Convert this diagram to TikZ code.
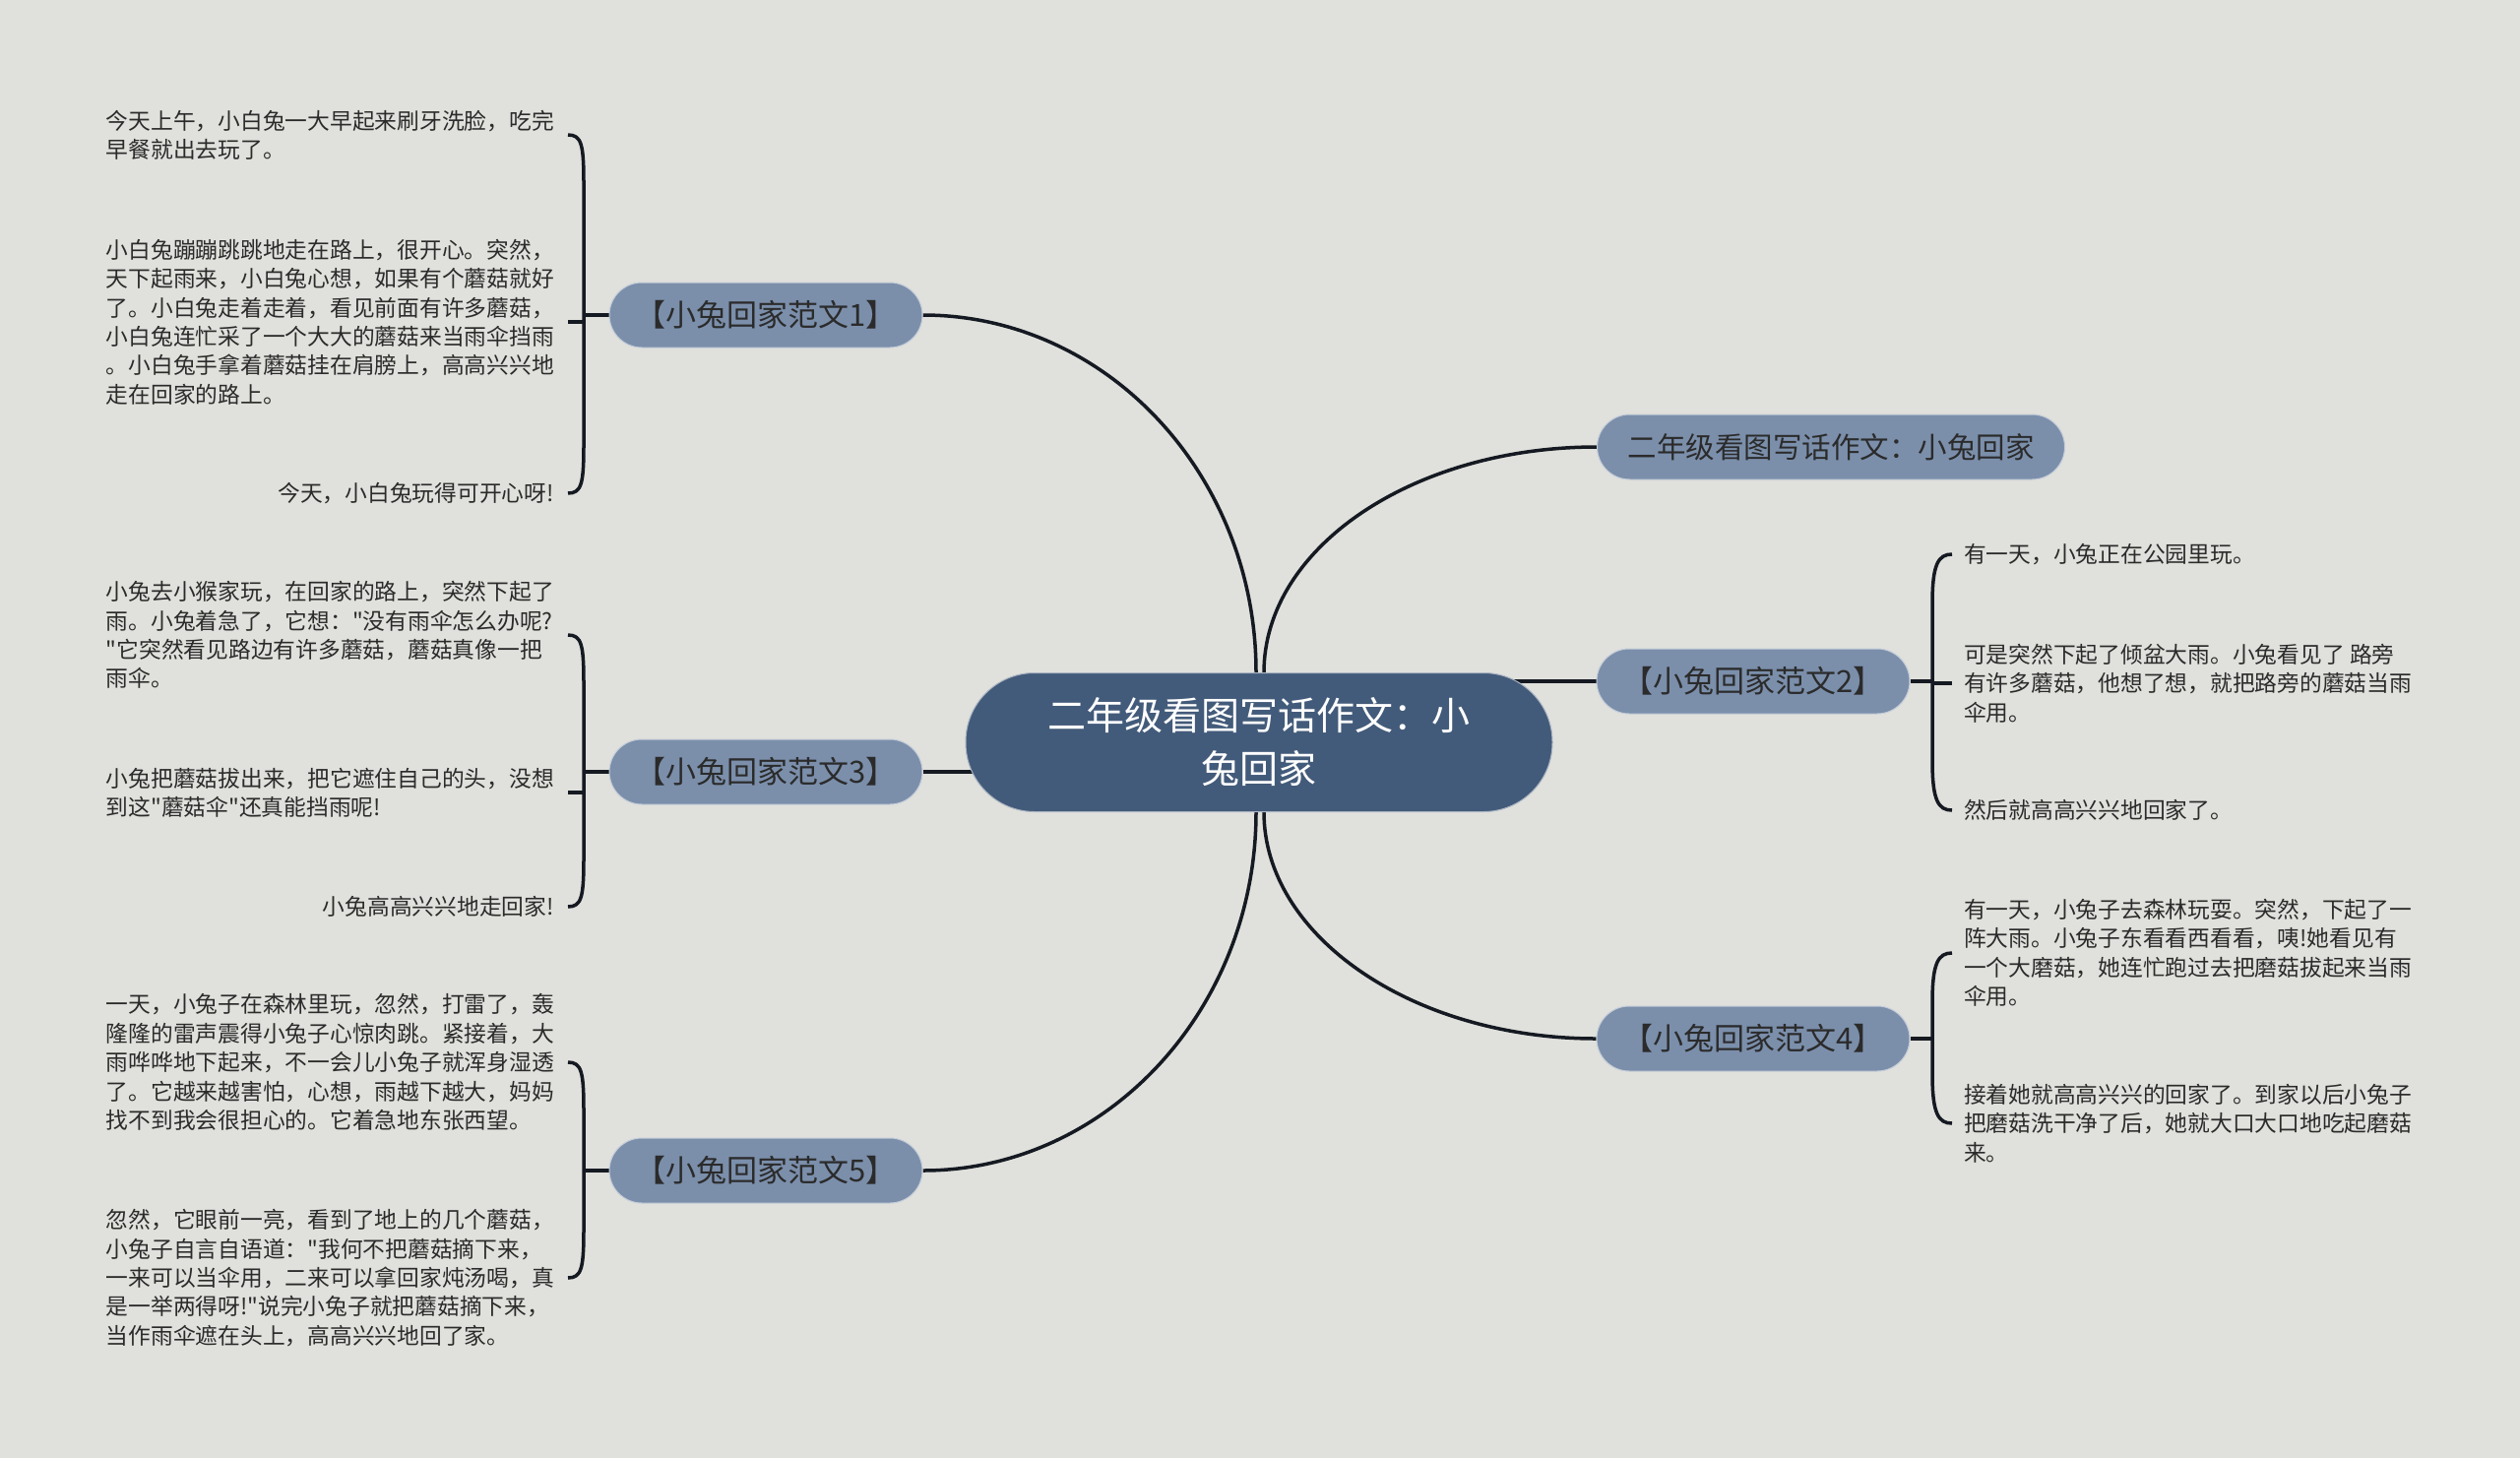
\documentclass[tikz,border=0pt]{standalone}
\usepackage{fontspec}
\setmainfont{Noto Sans CJK SC}[Ligatures=TeXOff]
\usetikzlibrary{calc, backgrounds}

\definecolor{paper}{HTML}{E0E0DC}
\definecolor{rootfill}{HTML}{435B7A}
\definecolor{subfill}{HTML}{7B8FAB}
\definecolor{ink}{HTML}{2B2B2B}
\definecolor{wirecol}{HTML}{151A22}

\begin{document}
\begin{tikzpicture}[
    x=1pt, y=-1pt,
    root/.style={fill=rootfill, draw=white!55!rootfill, line width=1pt,
                 rounded corners=70pt, minimum width=596pt, minimum height=141pt,
                 align=center, text=white, font=\fontsize{39}{54}\selectfont},
    sub/.style={fill=subfill, draw=white!55!subfill, line width=1pt,
                rounded corners=33pt, minimum width=318pt, minimum height=66pt,
                text=ink, font=\fontsize{31}{36}\selectfont},
    leafl/.style={anchor=east, align=left, inner sep=0pt, text=ink,
                  font=\fontsize{22.75}{29.4}\selectfont},
    leafr/.style={leafl, anchor=west},
    wire/.style={draw=wirecol, line width=3.5pt},
  ]

  \useasboundingbox (0,0) rectangle (2560,1481);

  %% ---- root and first level ----------------------------------------
  \node[root] (C) at (1279,754) {二年级看图写话作文：小\\兔回家};

  \node[sub] (B1) at (778,320)  {【小兔回家范文1】};
  \node[sub] (B3) at (778,784)  {【小兔回家范文3】};
  \node[sub] (B5) at (778,1189) {【小兔回家范文5】};
  \node[sub, minimum width=475pt, font=\fontsize{29.5}{36}\selectfont] (B0) at (1860,454) {二年级看图写话作文：小兔回家};
  \node[sub] (B2) at (1781,692)  {【小兔回家范文2】};
  \node[sub] (B4) at (1781,1055) {【小兔回家范文4】};

  %% ---- left leaves ---------------------------------------------------
  \node[leafl] (L1a) at (563,137) {今天上午，小白兔一大早起来刷牙洗脸，吃完\\早餐就出去玩了。};
  \node[leafl] (L1b) at (563,327) {小白兔蹦蹦跳跳地走在路上，很开心。突然，\\天下起雨来，小白兔心想，如果有个蘑菇就好\\了。小白兔走着走着，看见前面有许多蘑菇，\\小白兔连忙采了一个大大的蘑菇来当雨伞挡雨\\。小白兔手拿着蘑菇挂在肩膀上，高高兴兴地\\走在回家的路上。};
  \node[leafl] (L1c) at (563,501) {今天，小白兔玩得可开心呀!};

  \node[leafl] (L3a) at (563,645) {小兔去小猴家玩，在回家的路上，突然下起了\\雨。小兔着急了，它想："没有雨伞怎么办呢?\\"它突然看见路边有许多蘑菇，蘑菇真像一把\\雨伞。};
  \node[leafl] (L3b) at (563,805) {小兔把蘑菇拔出来，把它遮住自己的头，没想\\到这"蘑菇伞"还真能挡雨呢!};
  \node[leafl] (L3c) at (563,921) {小兔高高兴兴地走回家!};

  \node[leafl] (L5a) at (563,1079) {一天，小兔子在森林里玩，忽然，打雷了，轰\\隆隆的雷声震得小兔子心惊肉跳。紧接着，大\\雨哗哗地下起来，不一会儿小兔子就浑身湿透\\了。它越来越害怕，心想，雨越下越大，妈妈\\找不到我会很担心的。它着急地东张西望。};
  \node[leafl] (L5b) at (563,1298) {忽然，它眼前一亮，看到了地上的几个蘑菇，\\小兔子自言自语道："我何不把蘑菇摘下来，\\一来可以当伞用，二来可以拿回家炖汤喝，真\\是一举两得呀!"说完小兔子就把蘑菇摘下来，\\当作雨伞遮在头上，高高兴兴地回了家。};

  %% ---- right leaves --------------------------------------------------
  \node[leafr] (R2a) at (1995,563) {有一天，小兔正在公园里玩。};
  \node[leafr] (R2b) at (1995,694) {可是突然下起了倾盆大雨。小兔看见了 路旁\\有许多蘑菇，他想了想，就把路旁的蘑菇当雨\\伞用。};
  \node[leafr] (R2c) at (1995,823) {然后就高高兴兴地回家了。};

  \node[leafr] (R4a) at (1995,968) {有一天，小兔子去森林玩耍。突然，下起了一\\阵大雨。小兔子东看看西看看，咦!她看见有\\一个大磨菇，她连忙跑过去把磨菇拔起来当雨\\伞用。};
  \node[leafr] (R4b) at (1995,1141) {接着她就高高兴兴的回家了。到家以后小兔子\\把磨菇洗干净了后，她就大口大口地吃起磨菇\\来。};

  \begin{pgfonlayer}{background}
    \fill[paper] (0,0) rectangle (2560,1481);

    %% ---- root to first level ---------------------------------------
    \draw[wire] ([xshift=-3pt]C.north) .. controls +(0,-200) and +(187,0) .. (B1.east);
    \draw[wire] ([xshift=5pt]C.north) .. controls +(0,-127) and +(-186,0) .. (B0.west);
    \draw[wire] (B3.east) -- (B3.east -| C.center);
    \draw[wire] (B2.west) -- (B2.west -| C.center);
    \draw[wire] ([xshift=-3pt]C.south) .. controls +(0,200) and +(187,0) .. (B5.east);
    \draw[wire] ([xshift=5pt]C.south) .. controls +(0,126) and +(-186,0) .. (B4.west);

    %% ---- left brackets ---------------------------------------------
    \coordinate (k1) at ($(L1a.east)+(30,0)$);
    \draw[wire] ($(L1a.east)+(14,0)$) .. controls +(14,0) and +(0,-40) .. ($(L1a.east)+(30,50)$)
      -- ($(L1c.east)+(30,-50)$) .. controls +(0,40) and +(14,0) .. ($(L1c.east)+(14,0)$);
    \draw[wire] ($(L1b.east)+(14,0)$) -- (k1 |- L1b.east);
    \draw[wire] (B1.west) -- (k1 |- B1.west);

    \coordinate (k3) at ($(L3a.east)+(30,0)$);
    \draw[wire] ($(L3a.east)+(14,0)$) .. controls +(14,0) and +(0,-40) .. ($(L3a.east)+(30,50)$)
      -- ($(L3c.east)+(30,-50)$) .. controls +(0,40) and +(14,0) .. ($(L3c.east)+(14,0)$);
    \draw[wire] ($(L3b.east)+(14,0)$) -- (k3 |- L3b.east);
    \draw[wire] (B3.west) -- (k3 |- B3.west);

    \coordinate (k5) at ($(L5a.east)+(30,0)$);
    \draw[wire] ($(L5a.east)+(14,0)$) .. controls +(14,0) and +(0,-40) .. ($(L5a.east)+(30,50)$)
      -- ($(L5b.east)+(30,-50)$) .. controls +(0,40) and +(14,0) .. ($(L5b.east)+(14,0)$);
    \draw[wire] (B5.west) -- (k5 |- B5.west);

    %% ---- right brackets --------------------------------------------
    \coordinate (k2) at ($(R2a.west)+(-32,0)$);
    \draw[wire] ($(R2a.west)+(-12,0)$) .. controls +(-14,0) and +(0,-40) .. ($(R2a.west)+(-32,50)$)
      -- ($(R2c.west)+(-32,-50)$) .. controls +(0,40) and +(-14,0) .. ($(R2c.west)+(-12,0)$);
    \draw[wire] ($(R2b.west)+(-12,0)$) -- (k2 |- R2b.west);
    \draw[wire] (B2.east) -- (k2 |- B2.east);

    \coordinate (k4) at ($(R4a.west)+(-32,0)$);
    \draw[wire] ($(R4a.west)+(-12,0)$) .. controls +(-14,0) and +(0,-40) .. ($(R4a.west)+(-32,50)$)
      -- ($(R4b.west)+(-32,-50)$) .. controls +(0,40) and +(-14,0) .. ($(R4b.west)+(-12,0)$);
    \draw[wire] (B4.east) -- (k4 |- B4.east);
  \end{pgfonlayer}

\end{tikzpicture}
\end{document}
